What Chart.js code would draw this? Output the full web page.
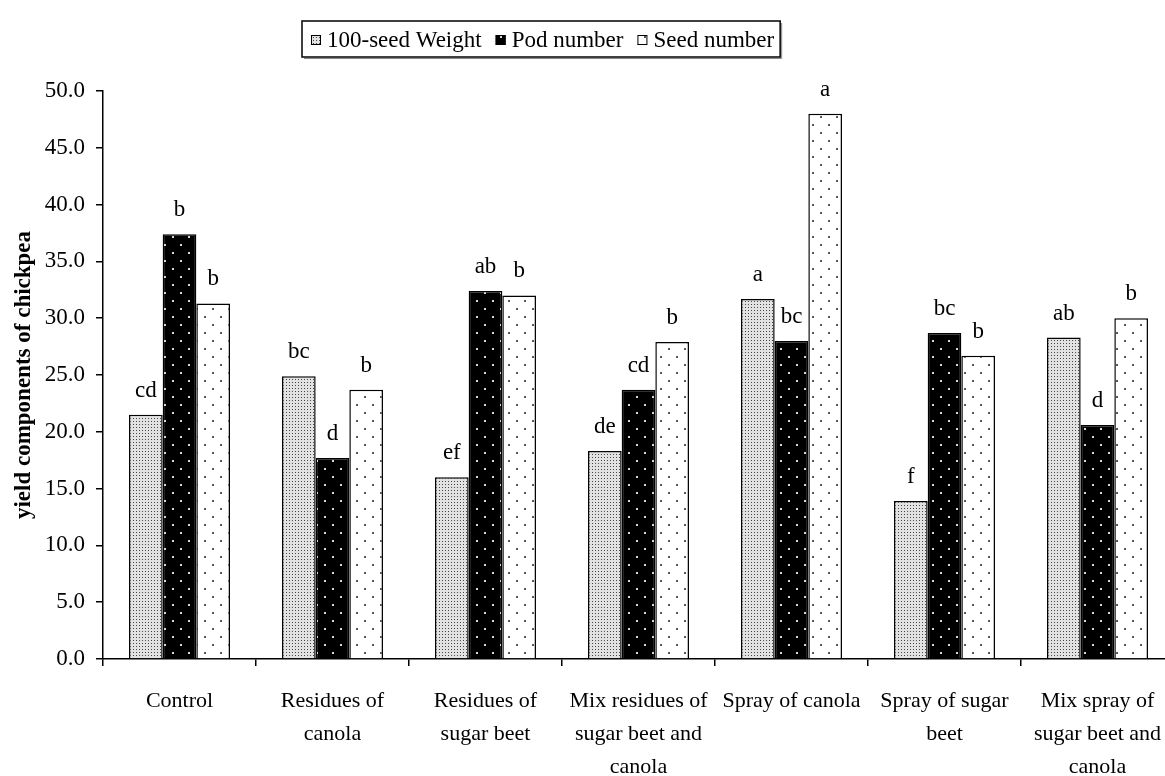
<!DOCTYPE html>
<html>
<head>
<meta charset="utf-8">
<script src="https://cdn.jsdelivr.net/npm/chart.js@4/dist/chart.umd.min.js"></script>
<style>
    html, body { margin: 0; padding: 0; background: #fff; overflow: hidden; }
    #chart { display: block; }
</style>
</head>
<body>
<canvas id="chart" width="1175" height="776"></canvas>
<script>
    // Treatments (x categories), split into lines as in the figure
    const categories = [
        ['Control'],
        ['Residues of', 'canola'],
        ['Residues of', 'sugar beet'],
        ['Mix residues of', 'sugar beet and', 'canola'],
        ['Spray of canola'],
        ['Spray of sugar', 'beet'],
        ['Mix spray of', 'sugar beet and', 'canola']
    ];

    const seriesNames = ['100-seed Weight', 'Pod number', 'Seed number'];

    const seedWeight = [21.5, 24.9, 16.0, 18.3, 31.7, 13.9, 28.3];
    const podNumber = [37.4, 17.7, 32.4, 23.7, 28.0, 28.7, 20.6];
    const seedNumber = [31.3, 23.7, 32.0, 27.9, 48.0, 26.7, 30.0];

    // Duncan letters above each bar
    const seedWeightLetters = ['cd', 'bc', 'ef', 'de', 'a', 'f', 'ab'];
    const podNumberLetters = ['b', 'd', 'ab', 'cd', 'bc', 'bc', 'd'];
    const seedNumberLetters = ['b', 'b', 'b', 'b', 'a', 'b', 'b'];

    const yTicks = [0, 5, 10, 15, 20, 25, 30, 35, 40, 45, 50];

    const FONT = '"Liberation Serif", "Times New Roman", serif';

    // --- fill patterns ---
    function makePattern(size, bg, dot, dots, r) {
        const c = document.createElement('canvas');
        c.width = size;
        c.height = size;
        const g = c.getContext('2d');
        g.fillStyle = bg;
        g.fillRect(0, 0, size, size);
        g.fillStyle = dot;
        dots.forEach(function (p) {
            g.fillRect(p[0], p[1], r, r);
        });
        return document.createElement('canvas').getContext('2d').createPattern(c, 'repeat');
    }

    const patWeight = makePattern(3, '#e2e2e2', '#474747', [[1, 1]], 1);
    const patPod = makePattern(16, '#000', '#d8d8d8', [[4, 4], [12, 12]], 2);
    const patSeed = makePattern(16, '#fff', '#555', [[4, 4], [12, 12]], 2);

    const fills = [patWeight, patPod, patSeed];
    const letters = [seedWeightLetters, podNumberLetters, seedNumberLetters];

    // letters above bars
    const letterPlugin = {
        id: 'letters',
        afterDatasetsDraw: function (chart) {
            const ctx = chart.ctx;
            ctx.save();
            ctx.font = '23px ' + FONT;
            ctx.fillStyle = '#000';
            ctx.textAlign = 'center';
            ctx.textBaseline = 'alphabetic';
            chart.data.datasets.forEach(function (ds, i) {
                chart.getDatasetMeta(i).data.forEach(function (bar, j) {
                    ctx.fillText(letters[i][j], bar.x, bar.y - 18);
                });
            });
            ctx.restore();
        }
    };

    // boxed legend at the top
    const legendPlugin = {
        id: 'boxLegend',
        afterDraw: function (chart) {
            const ctx = chart.ctx;
            ctx.save();
            ctx.font = '23px ' + FONT;
            ctx.textBaseline = 'alphabetic';
            const left = 302, top = 21, h = 36, sw = 10;
            let x = left + 9;
            const items = [];
            seriesNames.forEach(function (name, i) {
                items.push({ x: x, name: name, i: i });
                x += sw + 6 + ctx.measureText(name).width + 14;
            });
            const right = x - 8;

            ctx.fillStyle = '#fff';
            ctx.fillRect(left, top, right - left, h);
            ctx.strokeStyle = '#000';
            ctx.lineWidth = 1.5;
            ctx.strokeRect(left, top, right - left, h);
            // soft shadow edge like the original
            ctx.strokeStyle = '#888';
            ctx.lineWidth = 1;
            ctx.beginPath();
            ctx.moveTo(left + 2, top + h + 1.5);
            ctx.lineTo(right + 1.5, top + h + 1.5);
            ctx.lineTo(right + 1.5, top + 2);
            ctx.stroke();

            items.forEach(function (it) {
                const sy = top + h / 2 - sw / 2 + 1;
                ctx.fillStyle = fills[it.i];
                ctx.fillRect(it.x, sy, sw, sw);
                ctx.strokeStyle = '#000';
                ctx.lineWidth = 1;
                ctx.strokeRect(it.x + 0.5, sy + 0.5, sw - 1, sw - 1);
                ctx.fillStyle = '#000';
                ctx.fillText(it.name, it.x + sw + 6, top + 26);
            });
            ctx.restore();
        }
    };

    const datasets = [seedWeight, podNumber, seedNumber].map(function (vals, i) {
        return {
            label: seriesNames[i],
            data: vals,
            backgroundColor: fills[i],
            borderColor: '#000',
            borderWidth: 1.5,
            borderSkipped: 'bottom',
            categoryPercentage: 0.66,
            barPercentage: 1.0
        };
    });

    new Chart(document.getElementById('chart'), {
        type: 'bar',
        data: {
            labels: categories,
            datasets: datasets
        },
        options: {
            responsive: false,
            animation: false,
            layout: {
                padding: { top: 91, right: 1, bottom: 0, left: 0 }
            },
            plugins: {
                legend: { display: false },
                tooltip: { enabled: false }
            },
            scales: {
                x: {
                    offset: true,
                    afterFit: function (scale) {
                        scale.height = 117;
                        scale.paddingLeft = 0;
                        scale.paddingRight = 0;
                    },
                    grid: {
                        offset: true,
                        drawOnChartArea: false,
                        tickLength: 7,
                        color: '#000',
                        lineWidth: 1.5
                    },
                    border: { color: '#000', width: 1.5 },
                    ticks: {
                        color: '#000',
                        font: { family: FONT, size: 22, lineHeight: 1.5 },
                        maxRotation: 0,
                        autoSkip: false,
                        padding: 19
                    }
                },
                y: {
                    min: 0,
                    max: 50,
                    afterFit: function (scale) { scale.width = 103; },
                    afterBuildTicks: function (scale) {
                        scale.ticks = yTicks.map(function (v) { return { value: v }; });
                    },
                    grid: {
                        drawOnChartArea: false,
                        tickLength: 7,
                        color: '#000',
                        lineWidth: 1.5
                    },
                    border: { color: '#000', width: 1.5 },
                    ticks: {
                        color: '#000',
                        padding: 11,
                        font: { family: FONT, size: 23 },
                        callback: function (v) { return Number(v).toFixed(1); }
                    },
                    title: {
                        display: true,
                        text: 'yield components of chickpea',
                        color: '#000',
                        padding: { top: 10, bottom: 0 },
                        font: { family: FONT, size: 23, weight: 'bold' }
                    }
                }
            }
        },
        plugins: [letterPlugin, legendPlugin]
    });
</script>
</body>
</html>
